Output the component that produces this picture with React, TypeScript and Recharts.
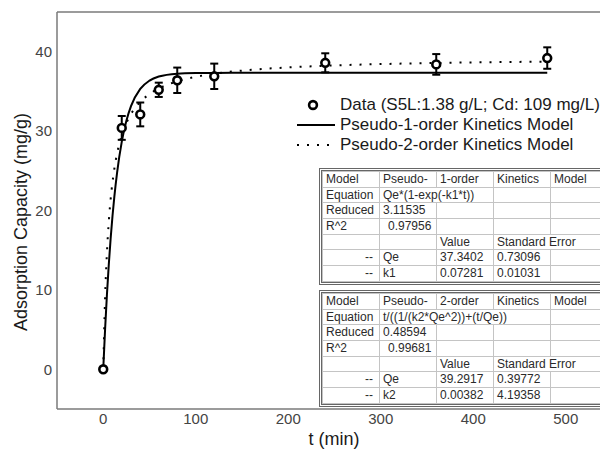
import React from "react";
import {
  ComposedChart,
  Line,
  Scatter,
  ErrorBar,
  XAxis,
  YAxis,
  ReferenceLine,
} from "recharts";

// measured adsorption data
const times = [0, 20, 40, 60, 80, 120, 240, 360, 480];
const capacity = [0, 30.4, 32.1, 35.2, 36.4, 36.9, 38.6, 38.4, 39.2];
const capacityErr = [0, 1.5, 1.5, 0.9, 1.6, 1.6, 1.2, 1.3, 1.35];

// fitted model curves
const curveTimes = [
  0, 2, 4, 6, 8, 10, 12, 15, 20, 25, 30, 40, 50, 60, 80, 100, 120, 160, 200,
  240, 300, 360, 420, 480,
];
const pseudo1 = [
  0, 5.06, 9.44, 13.21, 16.49, 19.31, 21.75, 24.81, 28.64, 31.29, 33.14, 35.31,
  36.36, 36.87, 37.23, 37.31, 37.33, 37.34, 37.34, 37.34, 37.34, 37.34, 37.34,
  37.34,
];
const pseudo2 = [
  0, 9.07, 14.74, 18.62, 21.44, 23.58, 25.26, 27.21, 29.47, 31.02, 32.15, 33.68,
  34.67, 35.36, 36.27, 36.84, 37.22, 37.72, 38.02, 38.23, 38.44, 38.58, 38.68,
  38.75,
];

const xTicks = [0, 100, 200, 300, 400, 500];
const yTicks = [0, 10, 20, 30, 40];

const table1 = [
  ["Model", "Pseudo-", "1-order", "Kinetics", "Model"],
  ["Equation", "Qe*(1-exp(-k1*t))", "", ""],
  ["Reduced", "3.11535", "", "", ""],
  ["R^2", "0.97956", "", "", ""],
  ["", "", "Value", "Standard Error"],
  ["--", "Qe", "37.3402", "0.73096", ""],
  ["--", "k1", "0.07281", "0.01031", ""],
];
const table2 = [
  ["Model", "Pseudo-", "2-order", "Kinetics", "Model"],
  ["Equation", "t/((1/(k2*Qe^2))+(t/Qe))", ""],
  ["Reduced", "0.48594", "", "", ""],
  ["R^2", "0.99681", "", "", ""],
  ["", "", "Value", "Standard Error"],
  ["--", "Qe", "39.2917", "0.39772", ""],
  ["--", "k2", "0.00382", "4.19358", ""],
];

const points = times.map((t, i) => ({ t, q: capacity[i], err: capacityErr[i] }));
const curve1 = curveTimes.map((t, i) => ({ t, q: pseudo1[i] }));
const curve2 = curveTimes.map((t, i) => ({ t, q: pseudo2[i] }));

const FONT = "'Liberation Sans', Arial, sans-serif";
const AXIS = "#7a7a7a";

const OpenCircle = (props: any) => (
  <circle
    cx={props.cx}
    cy={props.cy}
    r={3.9}
    fill="#fff"
    stroke="#000"
    strokeWidth={2.6}
  />
);

const colWidths = [57, 57, 57, 57, 72];

const FitTable = ({ rows, top, spans }: { rows: string[][]; top: number; spans: number[][] }) => (
  <div
    style={{
      position: "absolute",
      left: 319,
      top,
      border: "3px double #666",
      background: "#fff",
    }}
  >
    <table
      style={{
        borderCollapse: "collapse",
        tableLayout: "fixed",
        width: colWidths.reduce((a, b) => a + b, 0),
        fontFamily: FONT,
        fontSize: 12,
        color: "#2a2a2a",
      }}
    >
      <colgroup>
        {colWidths.map((w, i) => (
          <col key={i} style={{ width: w }} />
        ))}
      </colgroup>
      <tbody>
        {rows.map((row, r) => (
          <tr key={r} style={{ height: 15.7 }}>
            {row.map((cell, c) => (
              <td
                key={c}
                colSpan={spans[r][c]}
                style={{
                  border: "1px solid #c4c4c4",
                  padding: "0 3px",
                  whiteSpace: "nowrap",
                  overflow: "hidden",
                  lineHeight: "13px",
                  textAlign: cell === "--" ? "right" : "left",
                  paddingRight: cell === "--" ? 6 : 3,
                  paddingLeft: r === 3 && c === 1 ? 8 : 3,
                }}
              >
                {cell}
              </td>
            ))}
          </tr>
        ))}
      </tbody>
    </table>
  </div>
);

const span1 = [
  [1, 1, 1, 1, 1],
  [1, 2, 1, 1],
  [1, 1, 1, 1, 1],
  [1, 1, 1, 1, 1],
  [1, 1, 1, 2],
  [1, 1, 1, 1, 1],
  [1, 1, 1, 1, 1],
];
const span2 = [
  [1, 1, 1, 1, 1],
  [1, 3, 1],
  [1, 1, 1, 1, 1],
  [1, 1, 1, 1, 1],
  [1, 1, 1, 2],
  [1, 1, 1, 1, 1],
  [1, 1, 1, 1, 1],
];

const legendText: React.CSSProperties = {
  position: "absolute",
  left: 340,
  fontFamily: FONT,
  fontSize: 17,
  color: "#1a1a1a",
  lineHeight: "20px",
  whiteSpace: "nowrap",
};

export default function App() {
  return (
    <div
      style={{
        position: "absolute",
        left: 0,
        top: 0,
        width: 600,
        height: 450,
        overflow: "hidden",
        background: "#fff",
      }}
    >
      <ComposedChart
        width={620}
        height={450}
        margin={{ top: 12, right: 8, bottom: 11, left: 0 }}
      >
        <XAxis
          dataKey="t"
          type="number"
          domain={[-50, 550]}
          ticks={xTicks}
          height={30}
          tickLine={false}
          tickSize={0}
          tickMargin={4}
          axisLine={{ stroke: AXIS, strokeWidth: 1.5 }}
          tick={{ fill: "#444", fontSize: 15, fontFamily: FONT }}
          allowDataOverflow
          label={() => (
            <text
              x={334}
              y={445}
              textAnchor="middle"
              fontFamily={FONT}
              fontSize={18}
              fill="#1a1a1a"
            >
              t (min)
            </text>
          )}
        />
        <YAxis
          type="number"
          domain={[-5, 45]}
          ticks={yTicks}
          width={57}
          tickLine={false}
          tickSize={0}
          tickMargin={5}
          axisLine={{ stroke: AXIS, strokeWidth: 1.5 }}
          tick={{ fill: "#444", fontSize: 15, fontFamily: FONT }}
          allowDataOverflow
          label={() => (
            <text
              x={27}
              y={222}
              transform="rotate(-90 27 222)"
              textAnchor="middle"
              fontFamily={FONT}
              fontSize={18}
              fill="#1a1a1a"
            >
              Adsorption Capacity (mg/g)
            </text>
          )}
        />
        <ReferenceLine y={45} stroke={AXIS} strokeWidth={1.5} />
        <Line
          data={curve2}
          dataKey="q"
          type="monotone"
          stroke="#000"
          strokeWidth={2}
          strokeDasharray="2 8"
          dot={false}
          activeDot={false}
          isAnimationActive={false}
        />
        <Line
          data={curve1}
          dataKey="q"
          type="monotone"
          stroke="#000"
          strokeWidth={2}
          dot={false}
          activeDot={false}
          isAnimationActive={false}
        />
        <Scatter
          data={points}
          dataKey="q"
          shape={OpenCircle}
          isAnimationActive={false}
        >
          <ErrorBar
            dataKey="err"
            direction="y"
            width={4}
            stroke="#000"
            strokeWidth={2}
          />
        </Scatter>
      </ComposedChart>

      {/* legend */}
      <svg
        style={{ position: "absolute", left: 0, top: 0, pointerEvents: "none" }}
        width={600}
        height={450}
      >
        <circle cx={313} cy={105} r={3.9} fill="#fff" stroke="#000" strokeWidth={2.6} />
        <line x1={297} y1={125} x2={335} y2={125} stroke="#000" strokeWidth={2} />
        <line
          x1={297}
          y1={145}
          x2={331}
          y2={145}
          stroke="#000"
          strokeWidth={2}
          strokeDasharray="2 8"
        />
      </svg>
      <div style={{ ...legendText, top: 95 }}>Data (S5L:1.38 g/L; Cd: 109 mg/L)</div>
      <div style={{ ...legendText, top: 115 }}>Pseudo-1-order Kinetics Model</div>
      <div style={{ ...legendText, top: 135 }}>Pseudo-2-order Kinetics Model</div>

      <FitTable rows={table1} top={168} spans={span1} />
      <FitTable rows={table2} top={290} spans={span2} />
    </div>
  );
}
